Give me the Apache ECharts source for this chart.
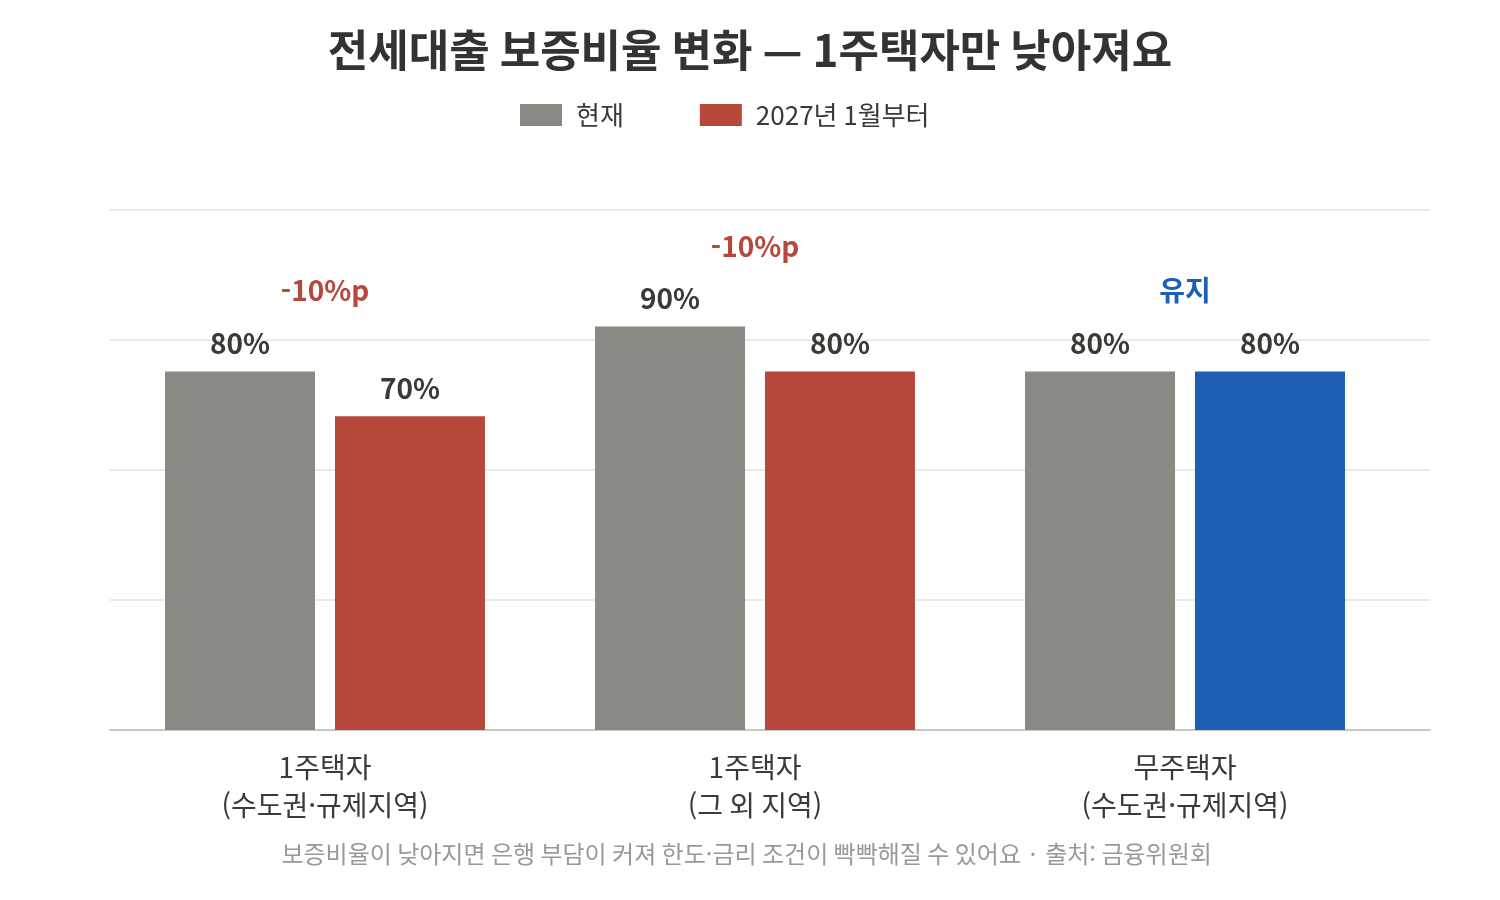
<!DOCTYPE html>
<html lang="ko">
<head>
<meta charset="UTF-8">
<script src="https://cdn.jsdelivr.net/npm/echarts@6/dist/echarts.min.js"></script>
<title>전세대출 보증비율 변화</title>
<style>
  html, body { margin: 0; padding: 0; background: #fff; }
  #main { width: 1500px; height: 900px; }
</style>
</head>
<body>
<div id="main"></div>
<script>
    // data
    var categories = ['1주택자\n(수도권·규제지역)', '1주택자\n(그 외 지역)', '무주택자\n(수도권·규제지역)'];
    var currentRatio = [80, 90, 80];
    var futureRatio = [70, 80, 80];
    var changeNotes = ['-10%p', '-10%p', '유지'];
    var noteColors = ['#b5473b', '#b5473b', '#1c5fb3'];
    var futureColors = ['#b5473b', '#b5473b', '#1c5fb3'];

    var FONT = '"Noto Sans CJK KR", "Noto Sans", sans-serif';
    var chart = echarts.init(document.getElementById('main'));

    // annotation sits a bit above the taller bar of each group
    var noteData = [];
    for (var i in categories) {
        noteData.push({
            value: Math.max(currentRatio[i], futureRatio[i]) + 18,
            label: { formatter: changeNotes[i], color: noteColors[i] }
        });
    }

    var futureData = [];
    for (var i in futureRatio) {
        futureData.push({ value: futureRatio[i], itemStyle: { color: futureColors[i] } });
    }

    var barLabel = {
        show: true, position: 'top', distance: 14,
        formatter: '{c}%',
        fontFamily: FONT, fontSize: 28, fontWeight: 'bold', color: '#3a3a36'
    };

    var option = {
        animation: false,
        title: {
            text: '전세대출 보증비율 변화 — 1주택자만 낮아져요',
            left: 'center',
            top: 23,
            textStyle: { fontFamily: FONT, fontSize: 44, fontWeight: 'bold', color: '#333' }
        },
        legend: {
            top: 97,
            left: 515,
            itemWidth: 42,
            itemHeight: 22,
            itemGap: 76,
            icon: 'rect',
            data: ['현재', '2027년 1월부터'],
            textStyle: { fontFamily: FONT, fontSize: 26, color: '#3a3a36', padding: [0, 0, 0, 9] }
        },
        graphic: [{
            type: 'text',
            left: 'center',
            top: 842,
            style: {
                text: '보증비율이 낮아지면 은행 부담이 커져 한도·금리 조건이 빡빡해질 수 있어요 · 출처: 금융위원회',
                fontFamily: FONT,
                fontSize: 24,
                fill: '#999'
            }
        }],
        grid: [
            { left: 110, right: 100, top: 210, bottom: 170 },   // bars
            { left: 110, right: 70, top: 210, bottom: 170 }     // grid lines, axis line
        ],
        xAxis: [{
            type: 'category',
            gridIndex: 0,
            data: categories,
            axisTick: { show: false },
            axisLine: { show: false },
            axisLabel: {
                fontFamily: FONT, fontSize: 28, color: '#3a3a36',
                lineHeight: 38, margin: 18
            }
        }, {
            type: 'value',
            gridIndex: 1,
            min: 0,
            max: 1,
            axisLabel: { show: false },
            axisTick: { show: false },
            splitLine: { show: false },
            axisLine: { show: true, lineStyle: { color: '#c8c8c4', width: 2 } }
        }],
        yAxis: [{
            type: 'value',
            gridIndex: 0,
            min: 0,
            max: 116,
            interval: 29,
            axisLabel: { show: false },
            axisLine: { show: false },
            axisTick: { show: false },
            splitLine: { show: false }
        }, {
            type: 'value',
            gridIndex: 1,
            min: 0,
            max: 116,
            interval: 29,
            axisLabel: { show: false },
            axisLine: { show: false },
            axisTick: { show: false },
            splitLine: { lineStyle: { color: '#e2e2de', width: 1.5 } }
        }],
        series: [{
            name: '현재',
            type: 'bar',
            data: currentRatio,
            barWidth: 150,
            barGap: '13.3%',
            itemStyle: { color: '#8a8a84' },
            label: barLabel
        }, {
            name: '2027년 1월부터',
            type: 'bar',
            data: futureData,
            barWidth: 150,
            itemStyle: { color: '#b5473b' },
            label: barLabel
        }, {
            name: 'note',
            type: 'scatter',
            data: noteData,
            symbolSize: 0,
            silent: true,
            itemStyle: { opacity: 1 },
            label: {
                show: true, position: 'inside',
                fontFamily: FONT, fontSize: 28, fontWeight: 'bold'
            }
        }]
    };

    chart.setOption(option);
</script>
</body>
</html>
